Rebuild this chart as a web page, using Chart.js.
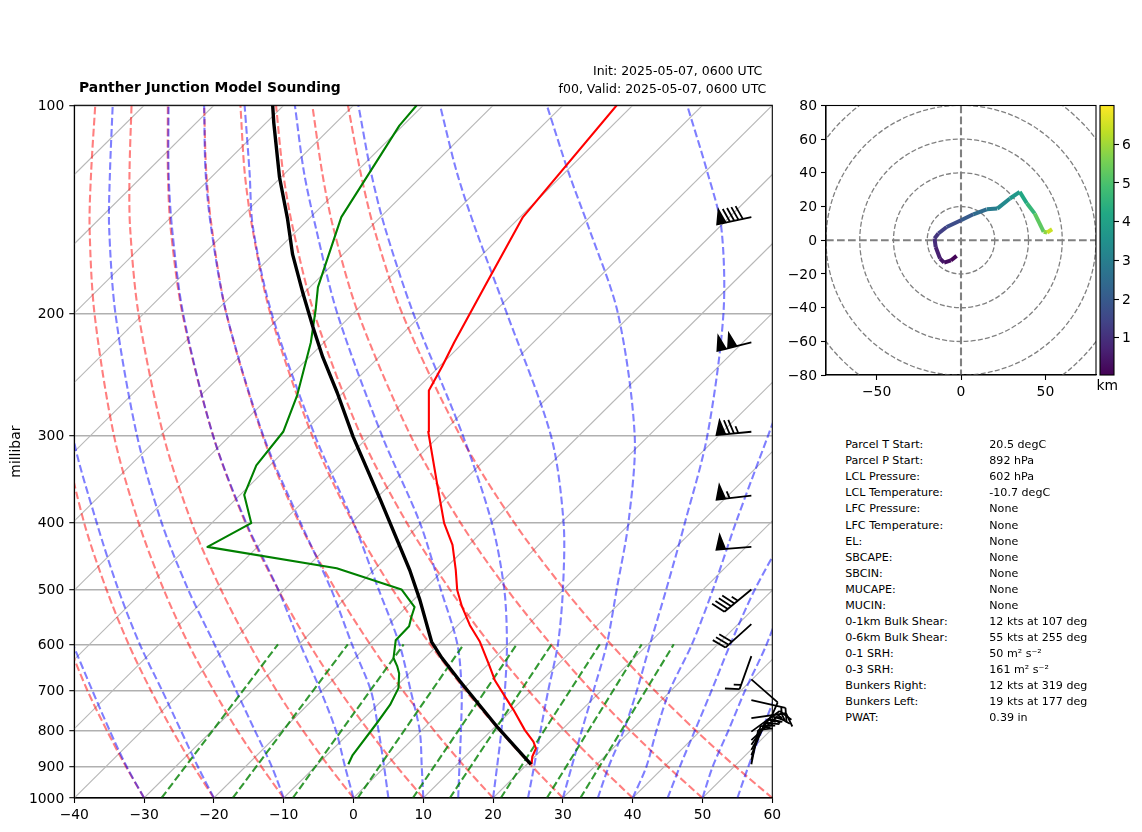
<!DOCTYPE html>
<html>
<head>
<meta charset="utf-8">
<script src="https://cdn.jsdelivr.net/npm/chart.js@4/dist/chart.umd.min.js"></script>
<style>
  html, body { margin: 0; padding: 0; background: #fff; }
  body { width: 1142px; height: 832px; position: relative; overflow: hidden; font-family: "DejaVu Sans", sans-serif; color: #000; }
  canvas { position: absolute; }
  .txt { position: absolute; white-space: nowrap; transform: translateY(-50%); }
</style>
</head>
<body>
<canvas id="skewCanvas" width="800" height="832" style="left:0;top:0"></canvas>
<canvas id="hodoCanvas" width="320" height="320" style="left:780px;top:90px"></canvas>
<canvas id="cbarCanvas" width="46" height="300" style="left:1096px;top:90px"></canvas>
<script>
const stationTitle = "Panther Junction Model Sounding";
const initLine = "Init: 2025-05-07, 0600 UTC";
const validLine = "f00, Valid: 2025-05-07, 0600 UTC";

const statLabels = ["Parcel T Start:", "Parcel P Start:", "LCL Pressure:", "LCL Temperature:", "LFC Pressure:", "LFC Temperature:", "EL:", "SBCAPE:", "SBCIN:", "MUCAPE:", "MUCIN:", "0-1km Bulk Shear:", "0-6km Bulk Shear:", "0-1 SRH:", "0-3 SRH:", "Bunkers Right:", "Bunkers Left:", "PWAT:"];
const statValues = ["20.5 degC", "892 hPa", "602 hPa", "-10.7 degC", "None", "None", "None", "None", "None", "None", "None", "12 kts at 107 deg", "55 kts at 255 deg", "50 m\u00b2 s\u207b\u00b2", "161 m\u00b2 s\u207b\u00b2", "12 kts at 319 deg", "19 kts at 177 deg", "0.39 in"];

const pressureTicks = [100, 200, 300, 400, 500, 600, 700, 800, 900, 1000];
const skewPerDecade = 100;

// temperature profile
const tempP = [894, 872, 848, 829, 798, 746, 714, 676, 643, 595, 563, 529, 501, 469, 431, 401, 351, 296, 258, 238, 220, 181, 145, 100];
const tempT = [20.66, 19.66, 18.98, 17.63, 14.75, 10.19, 7.08, 3.24, 0.26, -4.44, -8.28, -12.12, -15.16, -18.23, -22.37, -26.7, -33.51, -42.16, -48.04, -49.63, -51.34, -55.22, -59.59, -62.29];

// dewpoint profile
const dewP = [894, 867, 780, 734, 694, 661, 645, 628, 592, 565, 548, 530, 500, 466, 434, 401, 365, 331, 296, 262, 220, 197, 183, 145, 107, 100];
const dewT = [-5.61, -6.32, -7.46, -8.2, -9.42, -11.44, -12.79, -14.47, -16.72, -16.83, -17.83, -18.82, -23.23, -35.57, -57.17, -54.34, -59.43, -61.94, -62.94, -66.23, -71.87, -75.97, -78.85, -85.61, -90.49, -90.95];

// parcel path
const parcelP = [894, 793, 679, 628, 595, 518, 469, 371, 301, 260, 231, 209, 187, 164, 146, 127, 106, 100];
const parcelT = [20.56, 10.68, -1.53, -7.53, -11.36, -19.05, -24.82, -39.22, -52.19, -60.83, -68.04, -73.8, -80.05, -87.25, -93.01, -100.22, -108.89, -111.58];

const isotherms = [-130, -120, -110, -100, -90, -80, -70, -60, -50, -40, -30, -20, -10, 0, 10, 20, 30, 40, 50, 60];

// background curves, one row per curve, values at adiabatLevels
const adiabatLevels = [1000, 900, 800, 700, 600, 500, 400, 300, 200, 150, 125, 100];
const dryAdiabats = [
  [-40, -46.9, -54.4, -62.6, -71.6, -81.9, -93.7, -107.9, -126, -137.6, -144.5, -152.5],
  [-30, -37.2, -45, -53.6, -63, -73.7, -86, -100.8, -119.7, -131.8, -139, -147.3],
  [-20, -27.5, -35.6, -44.5, -54.4, -65.5, -78.4, -93.7, -113.4, -126, -133.5, -142.1],
  [-10, -17.8, -26.3, -35.5, -45.8, -57.3, -70.6, -86.6, -107, -120.2, -127.9, -137],
  [0, -8.1, -16.9, -26.5, -37.1, -49.1, -63, -79.5, -100.7, -114.4, -122.4, -131.8],
  [10, 1.6, -7.5, -17.5, -28.5, -40.9, -55.3, -72.4, -94.4, -108.6, -116.9, -126.6],
  [20, 11.3, 1.9, -8.4, -19.8, -32.7, -47.6, -65.3, -88.1, -102.7, -111.4, -121.4],
  [30, 21, 11.3, 0.6, -11.2, -24.5, -39.9, -58.2, -81.8, -96.9, -105.9, -116.2],
  [40, 30.7, 20.6, 9.6, -2.6, -16.3, -32.2, -51.2, -75.5, -91.1, -100.4, -111.1],
  [50, 40.4, 30, 18.6, 6.1, -8.1, -24.5, -44.1, -69.2, -85.3, -94.8, -105.9],
  [60, 50.1, 39.4, 27.7, 14.7, 0.1, -16.8, -37, -62.9, -79.5, -89.3, -100.8]
];
const moistAdiabats = [
  [-30, -37.1, -44.6, -52.9, -62.4, -73.8],
  [-20, -26.9, -34.4, -42.9, -52.8, -63.8, -76.6, -92.5, -112.4],
  [-10, -16.3, -23.8, -32.3, -42.1, -53.8, -67.3, -83.3, -104, -117.4, -125.2, -134.5],
  [0, -5.8, -12.2, -20.2, -29.8, -40.9, -55.2, -72.4, -94.3, -108.4, -116.8, -126.5],
  [5, -0.2, -6.1, -13, -22.4, -33.3, -47.4, -65.2, -88.1, -102.8, -111.5, -121.4],
  [10, 5.2, -0.2, -7.3, -15.6, -26.5, -39.8, -57.8, -81.6, -96.8, -105.2, -115.6],
  [15, 10.6, 5.7, 0, -7.3, -17.6, -30.3, -48.2, -72.2, -87.8, -97.4, -108.4],
  [20, 16, 11.5, 6.2, -0.2, -8.5, -20, -36.6, -61.3, -77.9, -87.8, -99.3],
  [25, 21.3, 17.1, 12.4, 7.1, -0.1, -9.7, -24, -47.9, -65, -75.5, -87.6],
  [30, 26.7, 23, 18.9, 14.1, 7.6, -0.4, -12, -32, -48.7, -59.5, -72.3],
  [35, 32, 29, 25.1, 20.3, 14.7, 7.7, -1.6, -16.9, -29.7, -39.6, -52.2],
  [40, 37.4, 33.7, 29.8, 26.3, 21.4, 15, 7.1, -4],
  [45, 42.2, 39.2, 35.8, 31.8, 27.4, 23],
  [50, 46.9, 44, 40.6, 37, 32],
  [55, 52, 48.8, 45.3, 42]
];
// mixing ratio lines run from 1000 to 600 hPa
const mixingLevels = [1000, 600];
const mixingBottomT = [-27.5, -17.3, -8.7, 0.6, 8.5, 13.8, 21.1, 27.7, 32.5];
const mixingTopT = [-33, -23, -15, -6.4, 1.2, 6.2, 13.1, 19.1, 23.7];

// wind barbs, knots
const barbP = [145, 220, 296, 366, 434, 500, 561, 624, 674, 722, 767, 802, 825, 838, 852, 867, 881, 894];
const barbU = [88, 97, 74.6, 54.7, 50, 35, 21, 5, -8, -13, -14, -11, -12, -9, -7, -5, -3, -2];
const barbV = [19, 24, 7, 6.4, 4, 29, 19, 14, 7, 3, -2, -8, -11, -13, -13, -12, -11, -10];
const barbAxisX = 57;

// hodograph
const hodoU = [-2.6, -6, -10, -12.4, -15, -15.7, -13.4, -8.5, 0, 7.3, 15.2, 21.5, 29, 34.8, 39, 43.7, 49, 51, 54];
const hodoV = [-9.3, -12, -13.3, -10.9, -4, 1, 4, 7.9, 11.9, 15.4, 18.4, 18.8, 24.8, 28.7, 22, 15.8, 5, 4.6, 6.5];
const hodoH = [0.05, 0.2, 0.35, 0.55, 0.8, 1, 1.2, 1.5, 1.85, 2.2, 2.7, 3.1, 3.5, 3.95, 4.4, 4.9, 5.6, 6, 6.9];
const hodoRings = [20, 40, 60, 80, 100];
const hodoXTicks = [-50, 0, 50];
const hodoYTicks = [-80, -60, -40, -20, 0, 20, 40, 60, 80];
const cbarTicks = [1, 2, 3, 4, 5, 6];
const cbarMin = 0.04;
const cbarMax = 7;
const viridis = ["#440154", "#482475", "#414487", "#355f8d", "#2a788e", "#21918c", "#22a884", "#44bf70", "#7ad151", "#bddf26", "#fde725"];

const tickFont = { family: "DejaVu Sans", size: 13.9 };
const borderStyle = { color: "#000", width: 1.1 };

Chart.defaults.devicePixelRatio = 1;
Chart.defaults.animation = false;
Chart.defaults.responsive = false;
Chart.defaults.color = "#000";

function skewX(t, p) {
  return t + skewPerDecade * Math.log10(1000 / p);
}

function minusSign(value) {
  return String(value).replace("-", "\u2212");
}

function toPoints(levels, temps) {
  return temps.map((t, i) => ({ x: skewX(t, levels[i]), y: levels[i] }));
}

function curve(points, color, width, dash, tension, order) {
  return {
    data: points, showLine: true, pointRadius: 0, borderColor: color, borderWidth: width,
    borderDash: dash, tension: tension, order: order, borderJoinStyle: "round"
  };
}

function hexToRgb(hex) {
  return [1, 3, 5].map((i) => parseInt(hex.slice(i, i + 2), 16));
}

function viridisColor(h) {
  let f = (h - cbarMin) / (cbarMax - cbarMin) * (viridis.length - 1);
  f = Math.max(0, Math.min(viridis.length - 1, f));
  let i = Math.min(Math.floor(f), viridis.length - 2);
  let a = hexToRgb(viridis[i]);
  let b = hexToRgb(viridis[i + 1]);
  let c = a.map((v, k) => Math.round(v + (b[k] - v) * (f - i)));
  return `rgb(${c[0]},${c[1]},${c[2]})`;
}

function drawBarb(ctx, ox, oy, u, v) {
  const L = 35, height = 0.4 * L, width = 0.25 * L, spacing = 0.125 * L;
  let speed = Math.sqrt(u * u + v * v);
  let rounded = Math.round(speed / 5) * 5;
  let nflags = Math.floor(rounded / 50);
  let nfull = Math.floor((rounded - nflags * 50) / 10);
  let half = (rounded - nflags * 50 - nfull * 10) >= 5;

  // pole points to where the wind comes from, screen y runs down
  let dx = -u / speed, dy = v / speed;
  let px = -dy, py = dx;
  let pt = (s, h) => [ox + dx * s + px * h, oy + dy * s + py * h];

  ctx.beginPath();
  ctx.moveTo(ox, oy);
  ctx.lineTo(...pt(L, 0));
  let offset = L;
  for (let i = 0; i < nflags; i++) {
    if (offset != L) offset += spacing / 2;
    ctx.moveTo(...pt(offset, 0));
    ctx.lineTo(...pt(offset - width / 2, height));
    ctx.lineTo(...pt(offset - width, 0));
    ctx.closePath();
    offset -= width + spacing;
  }
  ctx.fillStyle = "#000";
  ctx.fill();
  for (let i = 0; i < nfull; i++) {
    ctx.moveTo(...pt(offset, 0));
    ctx.lineTo(...pt(offset + width / 2, height));
    offset -= spacing;
  }
  if (half) {
    if (offset == L) offset -= 1.5 * spacing;
    ctx.moveTo(...pt(offset, 0));
    ctx.lineTo(...pt(offset + width / 4, height / 2));
  }
  ctx.strokeStyle = "#000";
  ctx.lineWidth = 1.8;
  ctx.stroke();
}

const frameBarbsPlugin = {
  id: "frameBarbs",
  afterDatasetsDraw(chart) {
    const ctx = chart.ctx, a = chart.chartArea;
    ctx.save();
    ctx.strokeStyle = "#000";
    ctx.lineWidth = 1.1;
    ctx.strokeRect(a.left, a.top, a.right - a.left, a.bottom - a.top);
    barbP.forEach((p, i) => {
      drawBarb(ctx, chart.scales.x.getPixelForValue(barbAxisX), chart.scales.y.getPixelForValue(p), barbU[i], barbV[i]);
    });
    ctx.restore();
  }
};

const ringsPlugin = {
  id: "rings",
  beforeDatasetsDraw(chart) {
    const ctx = chart.ctx, a = chart.chartArea, sx = chart.scales.x, sy = chart.scales.y;
    let cx = sx.getPixelForValue(0), cy = sy.getPixelForValue(0);
    ctx.save();
    ctx.beginPath();
    ctx.rect(a.left, a.top, a.right - a.left, a.bottom - a.top);
    ctx.clip();
    ctx.strokeStyle = "#808080";
    ctx.lineWidth = 1.3;
    ctx.setLineDash([5, 2.2]);
    hodoRings.forEach((r) => {
      ctx.beginPath();
      ctx.arc(cx, cy, sx.getPixelForValue(r) - cx, 0, Math.PI * 2);
      ctx.stroke();
    });
    ctx.lineWidth = 2.1;
    ctx.setLineDash([7.7, 3.3]);
    ctx.beginPath();
    ctx.moveTo(a.left, cy);
    ctx.lineTo(a.right, cy);
    ctx.moveTo(cx, a.top);
    ctx.lineTo(cx, a.bottom);
    ctx.stroke();
    ctx.restore();
  },
  afterDatasetsDraw(chart) {
    const ctx = chart.ctx, a = chart.chartArea;
    ctx.save();
    ctx.strokeStyle = "#000";
    ctx.lineWidth = 1.1;
    ctx.strokeRect(a.left, a.top, a.right - a.left, a.bottom - a.top);
    ctx.restore();
  }
};

const cbarPlugin = {
  id: "cbar",
  beforeDatasetsDraw(chart) {
    const ctx = chart.ctx, a = chart.chartArea;
    let g = ctx.createLinearGradient(0, a.bottom, 0, a.top);
    viridis.forEach((c, i) => g.addColorStop(i / (viridis.length - 1), c));
    ctx.save();
    ctx.fillStyle = g;
    ctx.fillRect(a.left, a.top, a.right - a.left, a.bottom - a.top);
    ctx.strokeStyle = "#000";
    ctx.lineWidth = 1.1;
    ctx.strokeRect(a.left, a.top, a.right - a.left, a.bottom - a.top);
    ctx.restore();
  }
};

// skew-T
let datasets = [];
datasets.push(curve(toPoints(parcelP, parcelT), "#000", 3.4, [], 0, 0));
datasets.push(curve(toPoints(tempP, tempT), "#ff0000", 2.1, [], 0, 1));
datasets.push(curve(toPoints(dewP, dewT), "#008000", 2.1, [], 0, 1));
mixingBottomT.forEach((t, i) => {
  datasets.push(curve(toPoints(mixingLevels, [t, mixingTopT[i]]), "rgba(0,128,0,0.8)", 2.1, [7.7, 3.3], 0, 4));
});
moistAdiabats.forEach((row) => {
  datasets.push(curve(toPoints(adiabatLevels, row), "rgba(0,0,255,0.5)", 2.1, [7.7, 3.3], 0.3, 5));
});
dryAdiabats.forEach((row) => {
  datasets.push(curve(toPoints(adiabatLevels, row), "rgba(255,0,0,0.5)", 2.1, [7.7, 3.3], 0.3, 6));
});
isotherms.forEach((t) => {
  datasets.push(curve(toPoints([1000, 100], [t, t]), "#b8b8b8", 1.1, [], 0, 7));
});

new Chart(document.getElementById("skewCanvas"), {
  type: "scatter",
  data: { datasets: datasets },
  plugins: [frameBarbsPlugin],
  options: {
    layout: { padding: { left: 0, top: 105.3, right: 27.7, bottom: 8 } },
    elements: { line: { capBezierPoints: false } },
    plugins: { legend: { display: false }, tooltip: { enabled: false } },
    scales: {
      x: {
        type: "linear", min: -40, max: 60,
        afterFit(scale) { scale.height = 26; },
        ticks: { stepSize: 10, font: tickFont, padding: 4, maxRotation: 0, autoSkip: false, callback: minusSign },
        grid: { drawOnChartArea: false, tickLength: 5, tickColor: "#000", tickWidth: 1.1 },
        border: borderStyle
      },
      y: {
        type: "logarithmic", min: 100, max: 1000, reverse: true,
        afterBuildTicks(scale) { scale.ticks = pressureTicks.map((v) => ({ value: v })); },
        afterFit(scale) { scale.width = 74.3; },
        title: { display: true, text: "millibar", font: tickFont, padding: { top: 8, bottom: 0 } },
        ticks: { font: tickFont, padding: 5, labelOffset: 1, autoSkip: false, callback: (v) => String(v) },
        grid: { color: "#b0b0b0", lineWidth: 1.4, tickLength: 5, tickColor: "#000", tickWidth: 1.1 },
        border: borderStyle
      }
    }
  }
});

// hodograph
new Chart(document.getElementById("hodoCanvas"), {
  type: "scatter",
  data: {
    datasets: [{
      data: hodoU.map((u, i) => ({ x: u, y: hodoV[i] })),
      showLine: true, pointRadius: 0, borderWidth: 4, borderJoinStyle: "round", borderCapStyle: "butt",
      borderColor: viridisColor(hodoH[0]),
      segment: { borderColor: (c) => viridisColor((hodoH[c.p0DataIndex] + hodoH[c.p1DataIndex]) / 2) }
    }]
  },
  plugins: [ringsPlugin],
  options: {
    layout: { padding: { left: 0, top: 15.5, right: 4, bottom: 10 } },
    plugins: { legend: { display: false }, tooltip: { enabled: false } },
    scales: {
      x: {
        type: "linear", min: -80, max: 80,
        afterBuildTicks(scale) { scale.ticks = hodoXTicks.map((v) => ({ value: v })); },
        afterFit(scale) { scale.height = 25; },
        ticks: { font: tickFont, padding: 4, maxRotation: 0, autoSkip: false, callback: minusSign },
        grid: { drawOnChartArea: false, tickLength: 5, tickColor: "#000", tickWidth: 1.1 },
        border: borderStyle
      },
      y: {
        type: "linear", min: -80, max: 80,
        afterBuildTicks(scale) { scale.ticks = hodoYTicks.map((v) => ({ value: v })); },
        afterFit(scale) { scale.width = 46; },
        ticks: { font: tickFont, padding: 4, labelOffset: 1, autoSkip: false, callback: minusSign },
        grid: { drawOnChartArea: false, tickLength: 5, tickColor: "#000", tickWidth: 1.1 },
        border: borderStyle
      }
    }
  }
});

// height colour bar
new Chart(document.getElementById("cbarCanvas"), {
  type: "scatter",
  data: { datasets: [] },
  plugins: [cbarPlugin],
  options: {
    layout: { padding: { left: 4, top: 15.5, right: 0, bottom: 15 } },
    plugins: { legend: { display: false }, tooltip: { enabled: false } },
    scales: {
      x: { display: false },
      y: {
        type: "linear", position: "right", min: cbarMin, max: cbarMax,
        afterBuildTicks(scale) { scale.ticks = cbarTicks.map((v) => ({ value: v })); },
        afterFit(scale) { scale.width = 28; },
        ticks: { font: tickFont, padding: 3, labelOffset: 1, autoSkip: false, callback: (v) => String(v) },
        grid: { drawOnChartArea: false, tickLength: 5, tickColor: "#000", tickWidth: 1.1 },
        border: { display: false }
      }
    }
  }
});

// text around the plots
function addText(text, left, top, size, weight, right) {
  let el = document.createElement("div");
  el.className = "txt";
  el.textContent = text;
  el.style.top = top + "px";
  el.style.fontSize = size + "px";
  if (weight) el.style.fontWeight = weight;
  if (right !== undefined) el.style.right = right + "px";
  else el.style.left = left + "px";
  document.body.appendChild(el);
}

addText(stationTitle, 79, 87, 13.9, "bold");
addText(initLine, 0, 70, 12.5, null, 1142 - 762.3);
addText(validLine, 0, 88, 12.5, null, 1142 - 766.3);
addText("km", 1096.5, 384.5, 13.9);
statLabels.forEach((label, i) => {
  addText(label, 845.3, 444.3 + i * 16.04, 11.1);
  addText(statValues[i], 989.3, 444.3 + i * 16.04, 11.1);
});
</script>
</body>
</html>
